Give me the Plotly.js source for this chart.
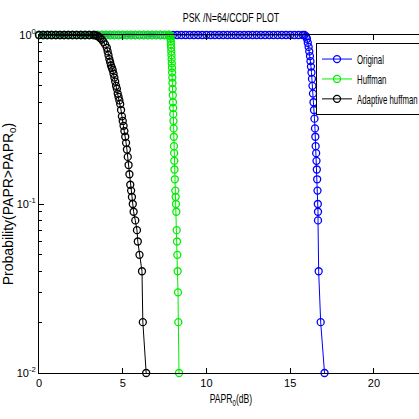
<!DOCTYPE html>
<html>
<head>
<meta charset="utf-8">
<script src="https://cdn.plot.ly/plotly-3.0.1.min.js"></script>
<style>
html,body{margin:0;padding:0;background:#fff;overflow:hidden;}
#wrap{width:419px;height:419px;overflow:hidden;position:relative;}
#chart{width:480px;height:419px;}
#chart .legendtext{transform-box:fill-box;transform-origin:left center;transform:scaleX(0.6);}
#chart .gtitle{transform-box:fill-box;transform-origin:center;transform:scaleX(0.68);}
#chart .xtitle{transform-box:fill-box;transform-origin:center;transform:scaleX(0.72);}
</style>
</head>
<body>
<div id="wrap"><div id="chart"></div></div>
<script>
// ---- data ----
const seriesNames = ["Original", "Huffman", "Adaptive huffman"];

const originalX = [0,0.25,0.5,0.75,1,1.25,1.5,1.75,2,2.25,2.5,2.75,3,3.25,3.5,3.75,4,4.25,4.5,4.75,5,5.25,5.5,5.75,6,6.25,6.5,6.75,7,7.25,7.5,7.75,8,8.25,8.5,8.75,9,9.25,9.5,9.75,10,10.25,10.5,10.75,11,11.25,11.5,11.75,12,12.25,12.5,12.75,13,13.25,13.5,13.75,14,14.25,14.5,14.75,15,15.25,15.5,15.75,
  15.85,15.95,16.0,16.05,16.1,16.14,16.18,16.21,16.24,16.27,16.3,16.33,16.36,16.39,16.42,16.45,16.48,16.5,16.52,16.55,16.57,16.59,16.61,16.63,16.65,16.66,16.66,16.7,16.82,17.05];
const originalY = [1,1,1,1,1,1,1,1,1,1,1,1,1,1,1,1,1,1,1,1,1,1,1,1,1,1,1,1,1,1,1,1,1,1,1,1,1,1,1,1,1,1,1,1,1,1,1,1,1,1,1,1,1,1,1,1,1,1,1,1,1,1,1,1,
  1,0.98,0.95,0.9,0.85,0.8,0.75,0.7,0.65,0.6,0.55,0.5,0.45,0.4,0.36,0.32,0.28,0.25,0.22,0.2,0.18,0.16,0.14,0.12,0.1,0.09,0.08,0.04,0.02,0.01];

const huffmanX = [0,0.25,0.5,0.75,1,1.25,1.5,1.75,2,2.25,2.5,2.75,3,3.25,3.5,3.75,4,4.25,4.5,4.75,5,5.25,5.5,5.75,6,6.25,6.5,6.75,7,7.25,7.5,7.75,
  7.8,7.84,7.86,7.87,7.88,7.89,7.9,7.91,7.92,7.93,7.94,7.95,7.96,7.97,7.98,7.99,8.0,8.01,8.02,8.03,8.04,8.05,8.06,8.07,8.08,8.09,8.11,8.14,8.16,8.18,8.2,8.22,8.24,8.26,8.28,8.3,8.32,8.36];
const huffmanY = [1,1,1,1,1,1,1,1,1,1,1,1,1,1,1,1,1,1,1,1,1,1,1,1,1,1,1,1,1,1,1,1,
  1,0.98,0.95,0.92,0.88,0.84,0.8,0.76,0.72,0.68,0.64,0.6,0.56,0.52,0.48,0.44,0.4,0.37,0.34,0.31,0.28,0.25,0.22,0.2,0.18,0.16,0.14,0.12,0.11,0.1,0.09,0.07,0.06,0.05,0.04,0.03,0.02,0.01];

const adaptiveX = [0,0.25,0.5,0.75,1,1.25,1.5,1.75,2,2.25,2.5,2.75,3,3.25,
  3.35,3.45,3.55,3.65,3.75,3.85,3.95,4.05,4.1,4.15,4.2,4.25,4.3,4.35,4.4,4.45,4.5,4.55,4.6,4.65,4.7,4.75,4.8,4.85,4.9,4.95,5.0,5.05,5.1,5.15,5.2,5.25,5.3,5.35,5.4,5.45,5.5,5.55,5.6,5.65,5.75,5.85,5.9,6.0,6.15,6.2,6.4];
const adaptiveY = [1,1,1,1,1,1,1,1,1,1,1,1,1,1,
  1,0.99,0.98,0.96,0.94,0.91,0.88,0.84,0.8,0.76,0.72,0.69,0.66,0.64,0.62,0.59,0.56,0.53,0.5,0.48,0.45,0.43,0.41,0.39,0.36,0.33,0.31,0.29,0.27,0.25,0.23,0.21,0.19,0.17,0.15,0.13,0.12,0.11,0.1,0.09,0.08,0.07,0.06,0.05,0.04,0.02,0.01];

const xTickVals = [0, 5, 10, 15, 20];
const yTickVals = [0.01, 0.1, 1];
const yTickText = ["10<sup>-2</sup>", "10<sup>-1</sup>", "10<sup>0</sup>"];
const yMinorVals = [0.02,0.03,0.04,0.05,0.06,0.07,0.08,0.09,0.2,0.3,0.4,0.5,0.6,0.7,0.8,0.9];

// ---- drawing ----
const sans = "Liberation Sans, Arial, sans-serif";
function tr(x, y, name, color) {
  return {
    x: x, y: y, name: name, type: "scatter", mode: "lines+markers",
    cliponaxis: false,
    line: {color: color, width: 1},
    marker: {symbol: "circle-open", size: 7, color: color, line: {color: color, width: 1.3}}
  };
}
const data = [
  tr(originalX, originalY, seriesNames[0], "#0000ff"),
  tr(huffmanX, huffmanY, seriesNames[1], "#00ee00"),
  tr(adaptiveX, adaptiveY, seriesNames[2], "#000000")
];
const layout = {
  width: 480, height: 419,
  margin: {l: 39, r: 57, t: 35, b: 46, autoexpand: false},
  paper_bgcolor: "#fff", plot_bgcolor: "#fff",
  font: {family: sans, size: 12, color: "#000"},
  title: {text: "PSK /N=64/CCDF PLOT", x: 0.5, xref: "paper", xanchor: "center",
          y: 1 - 17/419, yref: "container", yanchor: "middle",
          font: {family: sans, size: 13, color: "#000"}},
  showlegend: true,
  legend: {x: (316 - 39) / 384, y: 0.976, xanchor: "left", yanchor: "top",
           bgcolor: "#fff", bordercolor: "#000", borderwidth: 1,
           font: {family: sans, size: 13, color: "#000"}, tracegroupgap: 0},
  xaxis: {
    range: [0, 22.93], tickmode: "array", tickvals: xTickVals,
    ticks: "inside", ticklen: 5, tickcolor: "#000", showline: true, linecolor: "#000", linewidth: 1,
    mirror: "ticks", showgrid: false, zeroline: false, layer: "above traces",
    tickfont: {family: sans, size: 11, color: "#000"},
    title: {text: "PAPR<sub>0</sub>(dB)", standoff: 6, font: {family: sans, size: 12, color: "#000"}}
  },
  yaxis: {
    type: "log", range: [-2, 0], tickmode: "array", tickvals: yTickVals, ticktext: yTickText,
    ticks: "inside", ticklen: 5, tickcolor: "#000", showline: true, linecolor: "#000", linewidth: 1,
    showgrid: false, zeroline: false, layer: "above traces",
    minor: {tickmode: "array", tickvals: yMinorVals, ticks: "inside", ticklen: 3, tickcolor: "#000", showgrid: false},
    tickfont: {family: sans, size: 11, color: "#000"},
    title: {text: "Probability(PAPR>PAPR<sub>0</sub>)", standoff: 4,
            font: {family: sans, size: 14, color: "#000"}}
  }
};
Plotly.newPlot("chart", data, layout, {displayModeBar: false, staticPlot: true});
</script>
</body>
</html>
